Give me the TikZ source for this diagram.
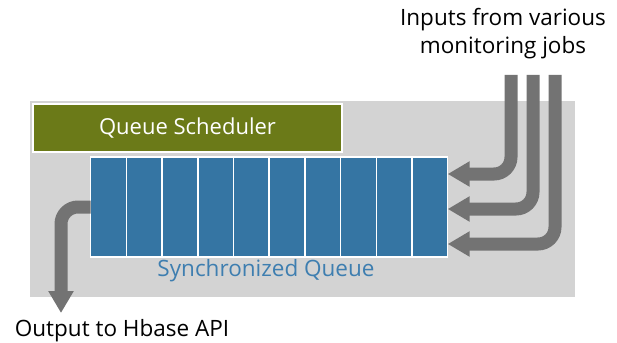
\documentclass[tikz,border=0pt]{standalone}
\usepackage{fontspec}
\setmainfont{Open Sans}
\usetikzlibrary{arrows.meta,positioning}
\definecolor{schedgreen}{RGB}{107,122,24}
\definecolor{queueblue}{RGB}{53,117,163}
\definecolor{labelblue}{RGB}{62,126,176}
\definecolor{boxgray}{RGB}{211,211,211}
\definecolor{arrowgray}{RGB}{115,115,115}

\begin{document}
\begin{tikzpicture}[x=1pt,y=-1pt,
    cell/.style={rectangle,draw=white,line width=1.5pt,fill=queueblue,
      minimum width=35.7pt,minimum height=100pt,inner sep=0pt,outer sep=0pt},
    sched/.style={rectangle,draw=white,line width=1.5pt,fill=schedgreen,
      minimum width=309pt,minimum height=48pt,text=white,font=\fontsize{22}{26}\selectfont},
    label/.style={font=\fontsize{22.5}{28}\selectfont,align=center,inner sep=0pt},
    flow/.style={draw=arrowgray,line width=13pt,rounded corners=17pt,
      -{Triangle[length=22pt,width=24pt]}}]
    \useasboundingbox (0,0) rectangle (617,342);
    \fill[boxgray] (30,101) rectangle (575,297);
    \node[sched] (sched) at (187.5,128) {Queue Scheduler};
    % the queue cells
    \node[cell] (c1) at (108.55,207) {};
    \foreach \i [count=\j from 1] in {2,...,10}
      \node[cell,right=0pt of c\j] (c\i) {};
    \node[label,text=labelblue] (sync) at (266,271) {Synchronized Queue};
    % inputs
    \node[label] (inputs) at (503,34) {Inputs from various\\monitoring jobs};
    \coordinate (in1) at (511,75);
    \coordinate (in2) at (533,75);
    \coordinate (in3) at (555,75);
    \draw[flow] (in1) |- ([yshift=33pt]c10.east);
    \draw[flow] (in2) |- ([yshift=-2pt]c10.east);
    \draw[flow] (in3) |- ([yshift=-37pt]c10.east);
    % output
    \coordinate (outtip) at (61,313);
    \draw[flow] (c1.west) -| (outtip);
    \node[label] (output) at (122,331) {Output to Hbase API};
\end{tikzpicture}
\end{document}
